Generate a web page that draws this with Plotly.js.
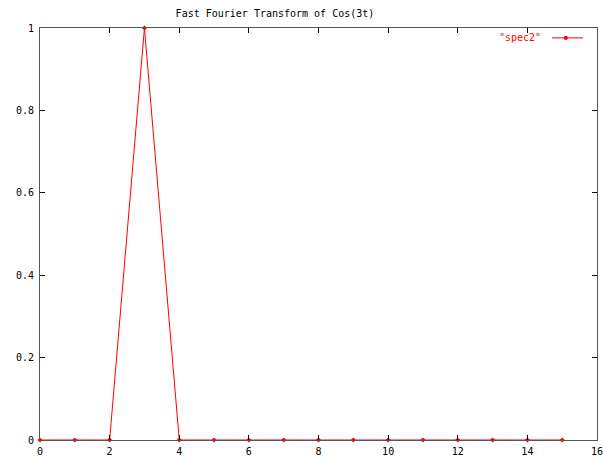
<!DOCTYPE html>
<html><head><meta charset="utf-8">
<script src="https://cdn.plot.ly/plotly-3.0.1.min.js"></script>
<style>html,body{margin:0;padding:0;background:#fff}#chart{width:603px;height:459px}</style>
</head><body><div id="chart"></div>
<script>
const freq = [0,1,2,3,4,5,6,7,8,9,10,11,12,13,14,15];
const spec2 = [0,0,0,1,0,0,0,0,0,0,0,0,0,0,0,0];
const xTicks = [0,2,4,6,8,10,12,14,16];
const yTicks = [0,0.2,0.4,0.6,0.8,1];
const yTickText = ['0','0.2','0.4','0.6','0.8','1'];
const seriesName = '"spec2"';
const red = '#ff0000';
const font = {family:'DejaVu Sans Mono, Liberation Mono, monospace', size:10, color:'#000'};

const trace = {
  x: freq, y: spec2, type:'scatter', mode:'lines+markers', name: seriesName,
  line:{color:red, width:1},
  marker:{color:red, size:4, symbol:'diamond'},
  showlegend:false, cliponaxis:false
};
const axisCommon = {
  showgrid:false, zeroline:false, showline:true, linecolor:'#555', linewidth:1,
  mirror:'allticks', ticks:'inside', ticklen:5, tickcolor:'#000', tickwidth:1,
  tickfont:font, fixedrange:true, ticklabeloverflow:'allow'
};
const layout = {
  width:603, height:459,
  margin:{l:40, r:6, t:28, b:19},
  paper_bgcolor:'#fff', plot_bgcolor:'#fff',
  font:font,
  title:{text:'Fast Fourier Transform of Cos(3t)', font:font, x:0.456, xanchor:'center', y:0.9695, yanchor:'middle'},
  xaxis:Object.assign({}, axisCommon, {range:[0,16], tickvals:xTicks, ticktext:xTicks.map(String), ticklabelstandoff:2}),
  yaxis:Object.assign({}, axisCommon, {range:[0,1], tickvals:yTicks, ticktext:yTickText, ticklabelstandoff:3}),
  annotations:[{xref:'paper', yref:'paper', x:0.903, y:0.976, xanchor:'right', yanchor:'middle',
    text:seriesName, showarrow:false, font:{family:font.family, size:10, color:red}}],
  shapes:[
    {type:'line', xref:'paper', yref:'paper', x0:0.919, x1:0.975, y0:0.976, y1:0.976, line:{color:red, width:1}}
  ]
};
// legend sample marker
layout.shapes.push({type:'circle', xref:'paper', yref:'paper', x0:0.944-0.0036, x1:0.944+0.0036, y0:0.976-0.0049, y1:0.976+0.0049, fillcolor:red, line:{color:red, width:0}});
Plotly.newPlot('chart', [trace], layout, {displayModeBar:false, staticPlot:true});
</script></body></html>
